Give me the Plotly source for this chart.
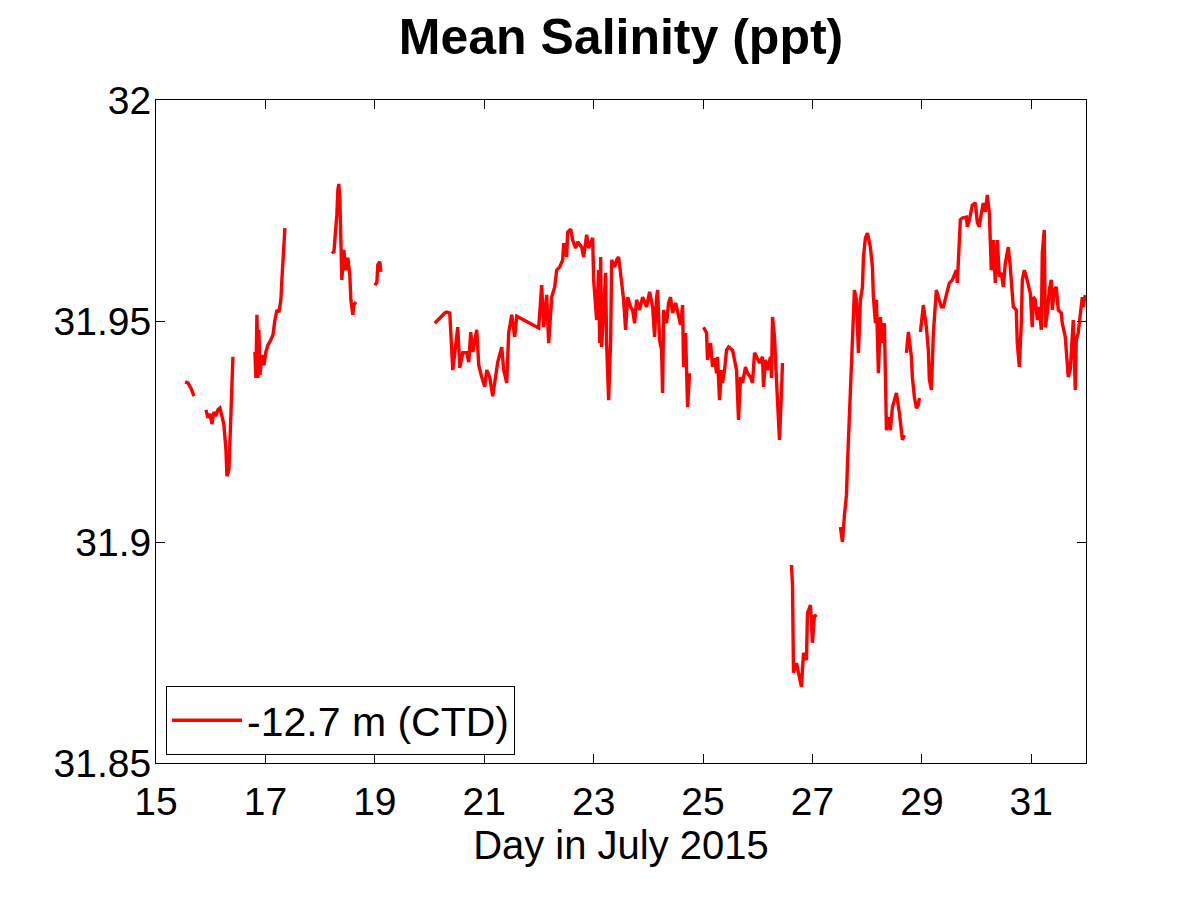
import plotly.graph_objects as go

# ---- data: day in July 2015 and mean salinity (ppt), one list pair per continuous record ----
seg_a_day = [15.530, 15.584, 15.639, 15.694]
seg_a_sal = [31.9362, 31.9360, 31.9348, 31.9330]

seg_b_day = [15.913, 15.950, 15.986, 16.023, 16.059, 16.096, 16.132, 16.169, 16.205, 16.242,
             16.279, 16.297, 16.333, 16.370, 16.388, 16.406]
seg_b_sal = [31.9299, 31.9281, 31.9290, 31.9267, 31.9294, 31.9285, 31.9299, 31.9303, 31.9285, 31.9265,
             31.9208, 31.9149, 31.9163, 31.9276, 31.9344, 31.9419]

seg_c_day = [16.808, 16.826, 16.845, 16.863, 16.881, 16.900, 16.936, 16.973, 17.009, 17.046,
             17.082, 17.137, 17.174, 17.210, 17.247, 17.283, 17.301, 17.320, 17.338, 17.356]
seg_c_sal = [31.9430, 31.9371, 31.9514, 31.9371, 31.9480, 31.9378, 31.9423, 31.9400, 31.9430, 31.9446,
             31.9453, 31.9468, 31.9502, 31.9525, 31.9520, 31.9548, 31.9593, 31.9649, 31.9695, 31.9710]

seg_d_day = [18.215, 18.251, 18.269, 18.306, 18.324, 18.342, 18.361, 18.379, 18.397, 18.434,
             18.470, 18.507, 18.543, 18.562, 18.598, 18.616, 18.653]
seg_d_sal = [31.9658, 31.9654, 31.9683, 31.9740, 31.9796, 31.9810, 31.9774, 31.9683, 31.9593, 31.9661,
             31.9615, 31.9643, 31.9604, 31.9548, 31.9514, 31.9536, 31.9543]

seg_e_day = [19.000, 19.037, 19.055, 19.091, 19.110]
seg_e_sal = [31.9581, 31.9588, 31.9627, 31.9634, 31.9611]

seg_f_day = [20.096, 20.187, 20.279, 20.315, 20.370, 20.425, 20.461, 20.516, 20.553, 20.607,
             20.680, 20.717, 20.753, 20.790, 20.863, 20.900, 20.954, 21.009, 21.046, 21.100,
             21.155, 21.192, 21.247, 21.320, 21.356, 21.411, 21.447, 21.502, 21.557, 21.594,
             21.995, 22.050, 22.087, 22.142, 22.178, 22.233, 22.288, 22.324, 22.379, 22.434,
             22.452, 22.507, 22.525, 22.580, 22.616, 22.671, 22.708, 22.781, 22.817, 22.872,
             22.909, 22.982, 23.000, 23.055, 23.091, 23.110, 23.128, 23.146, 23.183, 23.219,
             23.237, 23.274, 23.311, 23.329, 23.384, 23.420, 23.457, 23.493, 23.548, 23.584,
             23.621, 23.676, 23.712, 23.749, 23.785, 23.840, 23.895, 23.968, 24.023, 24.078,
             24.114, 24.151, 24.169, 24.205, 24.242, 24.260, 24.279, 24.333, 24.370, 24.406,
             24.443, 24.498, 24.534, 24.589, 24.626, 24.644, 24.680, 24.717, 24.753]
seg_f_sal = [31.9495, 31.9507, 31.9518, 31.9520, 31.9518, 31.9389, 31.9423, 31.9486, 31.9394, 31.9428,
             31.9428, 31.9407, 31.9475, 31.9430, 31.9480, 31.9400, 31.9373, 31.9351, 31.9389, 31.9373,
             31.9330, 31.9367, 31.9407, 31.9441, 31.9389, 31.9360, 31.9473, 31.9514, 31.9464, 31.9511,
             31.9484, 31.9581, 31.9486, 31.9559, 31.9450, 31.9554, 31.9577, 31.9615, 31.9622, 31.9638,
             31.9676, 31.9645, 31.9701, 31.9708, 31.9683, 31.9665, 31.9679, 31.9667, 31.9645, 31.9695,
             31.9665, 31.9688, 31.9593, 31.9502, 31.9615, 31.9450, 31.9645, 31.9441, 31.9525, 31.9609,
             31.9450, 31.9321, 31.9457, 31.9638, 31.9622, 31.9638, 31.9645, 31.9600, 31.9548, 31.9480,
             31.9554, 31.9532, 31.9525, 31.9495, 31.9548, 31.9525, 31.9554, 31.9532, 31.9566, 31.9532,
             31.9464, 31.9554, 31.9570, 31.9457, 31.9434, 31.9337, 31.9525, 31.9495, 31.9541, 31.9554,
             31.9518, 31.9541, 31.9518, 31.9491, 31.9536, 31.9396, 31.9473, 31.9305, 31.9382]

seg_g_day = [25.009, 25.064, 25.082, 25.137, 25.174, 25.210, 25.247, 25.265, 25.301, 25.338,
             25.356, 25.393, 25.429, 25.466, 25.539, 25.575, 25.612, 25.648, 25.685, 25.721,
             25.776, 25.813, 25.868, 25.904, 25.941, 25.977, 26.032, 26.087, 26.105, 26.142,
             26.178, 26.233, 26.251, 26.269, 26.306, 26.342, 26.361, 26.397, 26.434, 26.452]
seg_g_sal = [31.9486, 31.9473, 31.9412, 31.9450, 31.9396, 31.9416, 31.9382, 31.9419, 31.9321, 31.9389,
             31.9360, 31.9389, 31.9434, 31.9441, 31.9434, 31.9412, 31.9389, 31.9276, 31.9373, 31.9360,
             31.9396, 31.9382, 31.9373, 31.9360, 31.9428, 31.9419, 31.9405, 31.9419, 31.9351, 31.9412,
             31.9389, 31.9419, 31.9371, 31.9509, 31.9464, 31.9367, 31.9321, 31.9231, 31.9344, 31.9405]

seg_h_day = [26.616, 26.635, 26.653, 26.708, 26.744, 26.799, 26.836, 26.890, 26.909, 26.963,
             27.000, 27.037, 27.073]
seg_h_sal = [31.8948, 31.8903, 31.8704, 31.8726, 31.8704, 31.8672, 31.8749, 31.8733, 31.8839, 31.8857,
             31.8772, 31.8835, 31.8830]

seg_i_day = [27.511, 27.548, 27.584, 27.621, 27.639, 27.676, 27.712, 27.731, 27.767, 27.804,
             27.840, 27.877, 27.913, 27.932, 27.968, 28.005, 28.059, 28.096, 28.114, 28.151,
             28.169, 28.205, 28.242, 28.279, 28.315, 28.352, 28.388, 28.425, 28.461, 28.498,
             28.534, 28.589, 28.626, 28.644, 28.680]
seg_i_sal = [31.9034, 31.9000, 31.9061, 31.9106, 31.9174, 31.9276, 31.9378, 31.9468, 31.9570, 31.9548,
             31.9428, 31.9548, 31.9577, 31.9645, 31.9688, 31.9699, 31.9667, 31.9622, 31.9554, 31.9495,
             31.9548, 31.9382, 31.9509, 31.9450, 31.9495, 31.9253, 31.9283, 31.9253, 31.9305, 31.9321,
             31.9337, 31.9292, 31.9247, 31.9231, 31.9242]

seg_j_day = [28.717, 28.753, 28.808, 28.826, 28.863, 28.900, 28.936, 28.954]
seg_j_sal = [31.9428, 31.9475, 31.9419, 31.9373, 31.9328, 31.9303, 31.9310, 31.9326]

seg_k_day = [28.973, 29.009, 29.027, 29.082, 29.119, 29.137, 29.174, 29.210, 29.265, 29.301,
             29.356, 29.393, 29.447, 29.502, 29.557, 29.630, 29.648, 29.703, 29.740, 29.813,
             29.831, 29.868, 29.922, 29.977, 30.014, 30.050, 30.087, 30.123, 30.160, 30.196,
             30.233, 30.269, 30.306, 30.342, 30.379, 30.416, 30.452, 30.489, 30.525, 30.562,
             30.580, 30.616, 30.653, 30.671, 30.726, 30.744, 30.781, 30.817, 30.836, 30.872,
             30.909, 30.945, 30.982, 31.018, 31.037, 31.073, 31.110, 31.146, 31.183, 31.201,
             31.237, 31.256, 31.292, 31.329, 31.365, 31.384, 31.420, 31.457, 31.493, 31.548,
             31.566, 31.621, 31.658, 31.676, 31.712, 31.749, 31.767, 31.804, 31.822, 31.858,
             31.895, 31.932, 31.950, 31.986]
seg_k_sal = [31.9475, 31.9525, 31.9536, 31.9486, 31.9434, 31.9367, 31.9344, 31.9473, 31.9570, 31.9554,
             31.9532, 31.9532, 31.9563, 31.9586, 31.9593, 31.9615, 31.9586, 31.9729, 31.9733, 31.9735,
             31.9713, 31.9729, 31.9762, 31.9767, 31.9722, 31.9713, 31.9744, 31.9767, 31.9747, 31.9785,
             31.9744, 31.9615, 31.9683, 31.9586, 31.9683, 31.9600, 31.9609, 31.9577, 31.9631, 31.9654,
             31.9667, 31.9622, 31.9570, 31.9532, 31.9525, 31.9450, 31.9396, 31.9495, 31.9593, 31.9615,
             31.9600, 31.9577, 31.9563, 31.9486, 31.9554, 31.9548, 31.9502, 31.9532, 31.9480, 31.9654,
             31.9706, 31.9486, 31.9518, 31.9570, 31.9593, 31.9525, 31.9570, 31.9577, 31.9525, 31.9518,
             31.9495, 31.9464, 31.9412, 31.9373, 31.9389, 31.9457, 31.9502, 31.9344, 31.9457, 31.9473,
             31.9518, 31.9554, 31.9532, 31.9559]

x_ticks = [15, 17, 19, 21, 23, 25, 27, 29, 31]
y_ticks = [31.85, 31.9, 31.95, 32]
y_tick_labels = ["31.85", "31.9", "31.95", "32"]
series_name = "-12.7 m (CTD)"

segments = [(seg_a_day, seg_a_sal), (seg_b_day, seg_b_sal), (seg_c_day, seg_c_sal),
            (seg_d_day, seg_d_sal), (seg_e_day, seg_e_sal), (seg_f_day, seg_f_sal),
            (seg_g_day, seg_g_sal), (seg_h_day, seg_h_sal), (seg_i_day, seg_i_sal),
            (seg_j_day, seg_j_sal), (seg_k_day, seg_k_sal)]

xs, ys = [], []
for d, s in segments:
    if xs:
        xs.append(None)
        ys.append(None)
    xs.extend(d)
    ys.extend(s)

FONT = "Liberation Sans"

fig = go.Figure()
fig.add_trace(go.Scatter(x=xs, y=ys, mode="lines", name=series_name,
                         line=dict(color="#ff0000", width=3.4), connectgaps=False))

fig.update_layout(
    width=1192, height=892,
    paper_bgcolor="white", plot_bgcolor="white",
    margin=dict(l=148, r=114, t=92, b=137),
    font=dict(family=FONT, size=39, color="black"),
    title=dict(text="<b>Mean Salinity (ppt)</b>", font=dict(family=FONT, size=50, color="black"),
               x=0.5143, xanchor="center", xref="container",
               y=0.968, yanchor="middle", yref="container"),
    showlegend=True,
    legend=dict(x=0.0108, y=0.012, xanchor="left", yanchor="bottom",
                bordercolor="black", borderwidth=1, bgcolor="white",
                font=dict(family=FONT, size=41, color="black"),
                itemwidth=70, tracegroupgap=0),
)

fig.update_xaxes(range=[15, 32], tickvals=x_ticks, ticktext=[str(t) for t in x_ticks],
                 ticks="inside", ticklen=9, tickwidth=1, tickcolor="black",
                 showline=True, linecolor="black", linewidth=1, mirror="ticks",
                 showgrid=False, zeroline=False,
                 tickfont=dict(family=FONT, size=39, color="black"),
                 ticklabelstandoff=4,
                 title=dict(text="Day in July 2015", font=dict(family=FONT, size=40, color="black"),
                            standoff=5),
                 automargin=False)
fig.update_yaxes(range=[31.85, 32], tickvals=y_ticks, ticktext=y_tick_labels,
                 ticks="inside", ticklen=9, tickwidth=1, tickcolor="black",
                 showline=True, linecolor="black", linewidth=1, mirror="ticks",
                 showgrid=False, zeroline=False,
                 tickfont=dict(family=FONT, size=39, color="black"),
                 ticklabelstandoff=-4,
                 automargin=False)

fig.write_html("out.html")
